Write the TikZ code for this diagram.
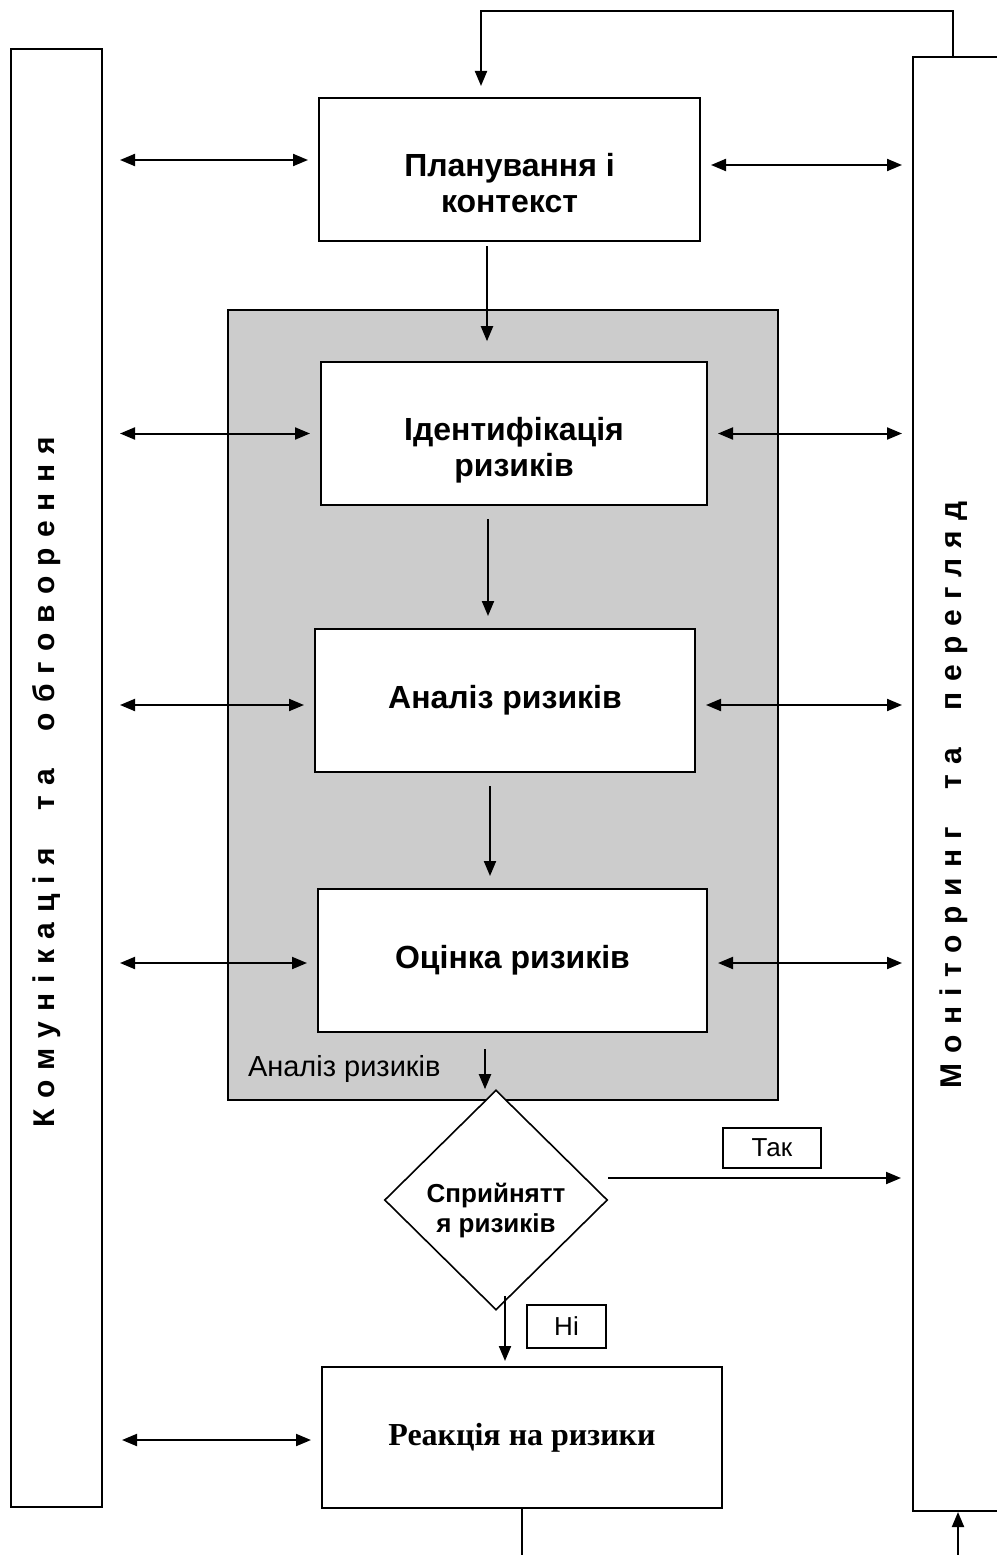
\documentclass[tikz,border=0pt]{standalone}
\usepackage{fontspec}
\setmainfont{Liberation Sans}
\newfontfamily\timesfont{Liberation Serif}
\usepackage{xcolor}
\usetikzlibrary{calc, arrows.meta, shapes.geometric, positioning}
\definecolor{areagray}{RGB}{204,204,204}

\begin{document}
\begin{tikzpicture}[x=1pt, y=-1pt, >={Triangle[length=15pt,width=12pt]}, line width=2pt,
    box/.style={draw, fill=white, align=center, inner sep=0pt, font=\bfseries\fontsize{32}{36}\selectfont},
    bar/.style={draw, fill=white, inner sep=0pt},
    tag/.style={draw, fill=white, inner sep=0pt, line width=1.6pt, font=\fontsize{26}{30}\selectfont},
    vtext/.style={rotate=90, inner sep=0pt, font=\bfseries\fontsize{30}{34}\selectfont\addfontfeature{LetterSpace=34}},
    link/.style={->},
    both/.style={<->}]

    % =================================================================
    % 1. RAMKA I BICHNI SMUHY
    % =================================================================
    \useasboundingbox (0,0) rectangle (996,1555);
    \node[bar, minimum width=91pt, minimum height=1458pt] (comm) at (56.5,778) {};
    \node[bar, minimum width=100pt, minimum height=1454pt, anchor=north west] (monit) at (912,56) {};

    \node[vtext] (commlbl) at (47,782) {Комунікація\hspace{19pt} та\hspace{19pt} обговорення};
    \node[vtext] (monitlbl) at (954,795) {Моніторинг\hspace{19pt} та\hspace{19pt} перегляд};

    % =================================================================
    % 2. SIRA OBLAST I BLOKY
    % =================================================================
    \node[draw, fill=areagray, line width=1.6pt, minimum width=550pt, minimum height=790pt] (area) at (503,705) {};
    \node[anchor=west, inner sep=0pt, font=\fontsize{29}{32}\selectfont] (arealbl) at (247,1069) {Аналіз ризиків};

    \node[box, minimum width=381pt, minimum height=143pt] (plan) at (509.5,169.5) {\rule{0pt}{50pt}Планування і\\контекст};
    \node[box, minimum width=386pt, minimum height=143pt] (ident) at (514,433.5) {\rule{0pt}{56pt}Ідентифікація\\ризиків};
    \node[box, minimum width=380pt, minimum height=143pt] (anal) at (505,700.5) {Аналіз ризиків};
    \node[box, minimum width=389pt, minimum height=143pt] (ocin) at (512.5,960.5) {Оцінка ризиків};
    \node[box, minimum width=400pt, minimum height=141pt, font=\timesfont\bfseries\fontsize{32}{36}\selectfont] (react) at (522,1437.5) {Реакція на ризики};

    % Romb rishennia
    \node[draw, fill=white, diamond, line width=1.6pt, minimum width=223pt, minimum height=220pt, inner sep=0pt,
          align=center, font=\bfseries\fontsize{26}{30}\selectfont] (accept) at (496,1200) {\rule{0pt}{40pt}Сприйнятт\\я ризиків};

    \node[tag, minimum width=98pt, minimum height=40pt] (yes) at (772,1148) {Так};
    \node[tag, minimum width=79pt, minimum height=43pt] (no) at (566.5,1326.5) {Ні};

    % =================================================================
    % 3. GORYZONTALNI STRILKY
    % =================================================================
    \foreach \b/\dl/\dr in {plan/-9.5/-4.5, ident/0/0, anal/4.5/4.5, ocin/2.5/2.5}{
        \draw[both, shorten <=17pt, shorten >=10pt] ($(comm.east |- \b.west)+(0,\dl)$) -- ($(\b.west)+(0,\dl)$);
        \draw[both, shorten <=10pt, shorten >=10pt] ($(\b.east)+(0,\dr)$) -- ($(monit.west |- \b.east)+(0,\dr)$);
    }
    \draw[both, shorten <=19pt, shorten >=10pt] ($(comm.east |- react.west)+(0,2.5)$) -- ($(react.west)+(0,2.5)$);

    % =================================================================
    % 4. VERTYKALNI STRILKY
    % =================================================================
    \draw[link] ($(plan.south)+(-22.5,4)$) -- ($(area.north)+(-16,32)$);
    \draw[link] ($(ident.south)+(-26,13)$) -- ($(anal.north)+(-17,-12)$);
    \draw[link] ($(anal.south)+(-15,13)$) -- ($(ocin.north)+(-22.5,-12)$);
    \draw[link] ($(ocin.south)+(-27.5,16)$) -- ($(accept.north)+(-11,0)$);
    \draw[link] ($(accept.south)+(9,-15)$) -- ($(react.north)+(-17,-5)$);

    % Tak
    \draw[link, shorten >=11pt] ($(accept.east)+(0,-22)$) -- ($(monit.west |- accept.east)+(0,-22)$);

    % Zvorotnii zviazok
    \draw[link] ($(monit.north west)+(41,0)$) |- ($(plan.north)+(-28.5,-86)$) -- ($(plan.north)+(-28.5,-11)$);
    \draw (react.south) -- ++(0,47);
    \draw[link] ($(monit.south west)+(46,45)$) -- ($(monit.south west)+(46,0)$);

\end{tikzpicture}
\end{document}
